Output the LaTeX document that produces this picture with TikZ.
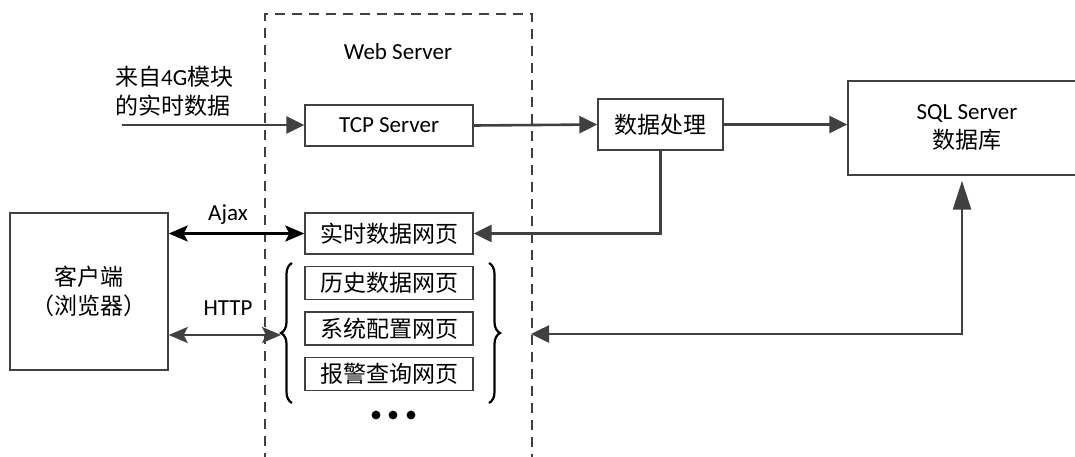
\documentclass[tikz,border=0pt]{standalone}
\usepackage{fontspec}
\setmainfont{Carlito}
\newfontfamily\cjk{Noto Sans CJK SC}
\usetikzlibrary{arrows.meta,decorations.pathreplacing}

\definecolor{linegray}{HTML}{404040}

\tikzset{
  txt/.style={inner sep=0pt, font=\fontsize{23}{29}\selectfont},
  cn/.style={inner sep=0pt, font=\cjk\fontsize{23}{29}\selectfont},
  box/.style={draw=linegray, line width=1.4pt},
  page/.style={box, cn, minimum width=168pt, minimum height=33pt},
  frame/.style={draw=linegray, line width=1.4pt, dash pattern=on 10pt off 7pt},
  flow/.style={draw=linegray, line width=2.6pt, -{Triangle[length=18pt,width=17pt]}},
  ajax/.style={draw=black, line width=2.6pt, {Stealth[length=19pt,width=16pt,inset=4pt]}-{Stealth[length=19pt,width=16pt,inset=4pt]}},
  http/.style={ajax, draw=linegray},
  brace/.style={decorate, decoration={brace, amplitude=11pt}, line width=2.2pt}
}

\begin{document}
\begin{tikzpicture}[x=1pt,y=1pt,yscale=-1]
\clip (0,0) rectangle (1075,456);

% web server frame
\node[frame, minimum width=267pt, minimum height=472pt] (web) at (398.5,250) {};
\node[txt] (webname) at (398,52) {Web Server};

% boxes
\node[box, txt, minimum width=168pt, minimum height=41pt] (tcp) at (389,125.5) {TCP Server};
\node[box, cn, minimum width=125pt, minimum height=51pt] (proc) at (660.5,124.5) {数据处理};
\node[box, txt, minimum width=238pt, minimum height=94pt, align=center] (sql) at (967,128) {SQL Server\\{\cjk 数据库}};
\node[page, minimum height=41pt] (rt) at (389,233.5) {实时数据网页};
\node[page] (hist) at (389,283) {历史数据网页};
\node[page] (cfg) at (389,328.5) {系统配置网页};
\node[page] (alarm) at (389,374) {报警查询网页};
\node[box, cn, minimum width=158pt, minimum height=157pt, align=center] (client) at (89,291.5) {客户端\\（浏览器）};

% labels
\node[cn, anchor=west, align=left] (src4g) at (115,91) {来自{\rmfamily 4G}模块\\的实时数据};
\node[txt] (ajaxname) at (228,215) {Ajax};
\node[txt] (httpname) at (228,308) {HTTP};

% braces and dots
\draw[brace] (292,403) -- (292,263);
\draw[brace] (489,263) -- (489,403);
\foreach \x in {376,393,411}
  \fill (\x,415) circle (4.4);

\coordinate (src) at (122,125);
\coordinate (lbrace) at (281,335);
\coordinate (dbin) at (531,334);

% connections
\draw[flow] (src) -- (tcp.west |- src);
\draw[flow] (tcp.east) -- (proc.west);
\draw[flow] (proc.east) -- (proc.east -| sql.west);
\draw[flow] (proc.south) |- (rt.east);
\draw[ajax] (client.east |- rt.west) -- (rt.west);
\draw[http] (client.east |- lbrace) -- (lbrace);
\draw[flow, {Triangle[length=18pt,width=17pt]}-{Triangle[length=29pt,width=18pt]}, shorten >=5pt] (dbin) -| ([xshift=-5pt]sql.south);
\end{tikzpicture}
\end{document}
